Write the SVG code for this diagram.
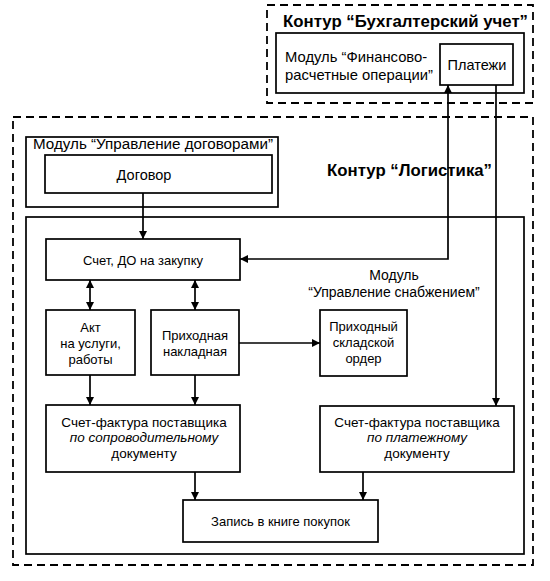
<svg xmlns="http://www.w3.org/2000/svg" width="550" height="581" viewBox="0 0 550 581">
<style>
  .box{fill:none;stroke:#000;stroke-width:1.7}
  .nbox{fill:#fff;stroke:#000;stroke-width:1.7}
  .dash{fill:none;stroke:#000;stroke-width:1.8;stroke-dasharray:8 5}
  .t{font-family:"Liberation Sans",Arial,sans-serif;font-size:13px;fill:#000;text-anchor:middle}
  .m{font-family:"Liberation Sans",Arial,sans-serif;font-size:15.2px;fill:#000}
  .b{font-family:"Liberation Sans",Arial,sans-serif;font-size:16.8px;font-weight:bold;fill:#000}
  .c{fill:none;stroke:#000;stroke-width:1.7}
  .i{font-style:italic}
  .sf{font-size:13.5px}
</style>
<defs>
  <marker id="ah" viewBox="0 0 10 10" refX="10" refY="5" markerWidth="9" markerHeight="8" markerUnits="userSpaceOnUse" orient="auto">
    <path d="M0,0 L10,5 L0,10 z" fill="#000"/>
  </marker>
  <marker id="as" viewBox="0 0 10 10" refX="0" refY="5" markerWidth="9" markerHeight="8" markerUnits="userSpaceOnUse" orient="auto">
    <path d="M10,0 L0,5 L10,10 z" fill="#000"/>
  </marker>
</defs>
<rect width="550" height="581" fill="#fff"/>

<g id="contour-buh">
  <rect class="dash" x="267" y="5" width="266" height="98"/>
  <text class="b" x="283" y="27">Контур “Бухгалтерский учет”</text>
</g>
<g id="module-fin">
  <rect class="box" x="276" y="33" width="248" height="60"/>
  <text class="m" x="285" y="62" style="font-size:14.8px">Модуль “Финансово-</text>
  <text class="m" x="285" y="80" style="font-size:14.8px">расчетные операции”</text>
</g>
<g id="platezhi">
  <rect class="nbox" x="440" y="44" width="73" height="41"/>
  <text class="t" x="477" y="70" style="font-size:14.5px">Платежи</text>
</g>

<g id="contour-log">
  <rect class="dash" x="13" y="117" width="520" height="448"/>
  <text class="b" x="327" y="176">Контур “Логистика”</text>
</g>
<g id="module-dog">
  <rect class="box" x="26" y="137" width="252" height="70"/>
  <text class="m" x="33" y="149">Модуль “Управление договорами”</text>
</g>
<g id="dogovor">
  <rect class="nbox" x="45" y="155" width="227" height="38"/>
  <text class="t" x="144" y="180" style="font-size:14.5px">Договор</text>
</g>
<g id="module-snab">
  <rect class="box" x="26" y="217" width="498" height="337"/>
  <text class="m" x="394" y="280" text-anchor="middle" style="font-size:14px">Модуль</text>
  <text class="m" x="394" y="297" text-anchor="middle" style="font-size:14px">“Управление снабжением”</text>
</g>
<g id="schet">
  <rect class="nbox" x="46" y="239" width="194" height="41"/>
  <text class="t" x="143" y="265">Счет, ДО на закупку</text>
</g>
<g id="akt">
  <rect class="nbox" x="46" y="310" width="89" height="65"/>
  <text class="t" x="90.5" y="332">Акт</text>
  <text class="t" x="90.5" y="348">на услуги,</text>
  <text class="t" x="90.5" y="364">работы</text>
</g>
<g id="prihod-nakl">
  <rect class="nbox" x="151" y="310" width="88" height="65"/>
  <text class="t" x="195" y="340">Приходная</text>
  <text class="t" x="195" y="356">накладная</text>
</g>
<g id="prihod-order">
  <rect class="nbox" x="320" y="310" width="87" height="66"/>
  <text class="t" x="363.5" y="331">Приходный</text>
  <text class="t" x="363.5" y="347">складской</text>
  <text class="t" x="363.5" y="363">ордер</text>
</g>
<g id="sf-soprov">
  <rect class="nbox" x="46" y="405" width="194" height="67"/>
  <text class="t sf" x="144" y="427">Счет-фактура поставщика</text>
  <text class="t sf i" x="144" y="442">по сопроводительному</text>
  <text class="t sf" x="144" y="458">документу</text>
</g>
<g id="sf-plat">
  <rect class="nbox" x="320" y="406" width="194" height="66"/>
  <text class="t sf" x="417" y="427">Счет-фактура поставщика</text>
  <text class="t sf i" x="417" y="442">по платежному</text>
  <text class="t sf" x="417" y="458">документу</text>
</g>
<g id="zapis">
  <rect class="nbox" x="183" y="500" width="195" height="42"/>
  <text class="t" x="280.5" y="526">Запись в книге покупок</text>
</g>

<g id="connectors">
  <path class="c" d="M143,193 V239" marker-end="url(#ah)"/>
  <path class="c" d="M448,85 V259 H240" marker-start="url(#as)" marker-end="url(#ah)"/>
  <path class="c" d="M496,85 V406" marker-end="url(#ah)"/>
  <path class="c" d="M90,280 V310" marker-start="url(#as)" marker-end="url(#ah)"/>
  <path class="c" d="M195,280 V310" marker-start="url(#as)" marker-end="url(#ah)"/>
  <path class="c" d="M239,343 H320" marker-end="url(#ah)"/>
  <path class="c" d="M90,375 V405" marker-end="url(#ah)"/>
  <path class="c" d="M195,375 V405" marker-end="url(#ah)"/>
  <path class="c" d="M195,472 V500" marker-end="url(#ah)"/>
  <path class="c" d="M363,472 V500" marker-end="url(#ah)"/>
</g>
</svg>
